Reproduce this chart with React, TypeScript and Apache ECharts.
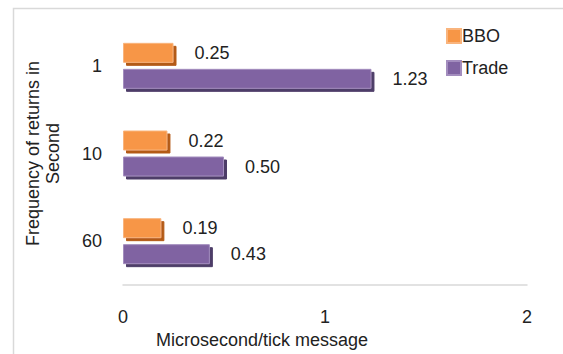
import React, { useEffect, useRef } from "react";
import * as echarts from "echarts";

const categories = ["1", "10", "60"];
const bboValues = [0.25, 0.22, 0.19];
const tradeValues = [1.23, 0.5, 0.43];
const xTicks = [0, 1, 2];

export default function App() {
  const ref = useRef<HTMLDivElement>(null);
  useEffect(() => {
    document.body.style.margin = "0";
    const chart = echarts.init(ref.current!, null, { renderer: "svg" });
    const font = "Liberation Sans, Arial, sans-serif";
    const fs = 18;
    const labelStyle = {
      show: true,
      position: "right" as const,
      distance: 21,
      color: "#222",
      fontSize: fs,
      fontFamily: font,
      formatter: (p: any) => p.value.toFixed(2),
    };
    chart.setOption({
      animation: false,
      backgroundColor: "#fff",
      textStyle: { fontFamily: font },
      graphic: [
        {
          type: "rect",
          shape: { x: 13.5, y: 8.5, width: 600, height: 400 },
          style: { fill: "none", stroke: "#d9d9d9", lineWidth: 1.5 },
          silent: true,
        },
      ],
      legend: {
        orient: "vertical",
        left: 441,
        top: 22,
        itemWidth: 14,
        itemHeight: 14,
        itemGap: 14,
        icon: "rect",
        textStyle: { fontSize: fs, color: "#222", fontFamily: font, padding: [0, 0, 0, -4] },
        data: ["BBO", "Trade"],
      },
      grid: { left: 123, right: 36, top: 22, bottom: 66, containLabel: false },
      xAxis: {
        type: "value",
        min: xTicks[0],
        max: xTicks[xTicks.length - 1],
        interval: 1,
        splitLine: { show: false },
        axisLine: { show: true, lineStyle: { color: "#d9d9d9", width: 1.5 } },
        axisTick: { show: false },
        axisLabel: { color: "#222", fontSize: fs, margin: 23, fontFamily: font },
        name: "Microsecond/tick message",
        nameLocation: "middle",
        nameGap: 46,
        nameTextStyle: { color: "#222", fontSize: fs, fontFamily: font, padding: [0, 0, 0, -126] },
      },
      yAxis: {
        type: "category",
        data: categories,
        inverse: true,
        axisLine: { show: false },
        axisTick: { show: false },
        splitLine: { show: false },
        axisLabel: { color: "#222", fontSize: fs, margin: 21, fontFamily: font },
        name: "Frequency of returns in\nSecond",
        nameLocation: "middle",
        nameGap: 60,
        nameRotate: 90,
        nameTextStyle: { color: "#222", fontSize: fs, fontFamily: font, lineHeight: 20 },
      },
      series: [
        {
          name: "BBO",
          type: "bar",
          data: bboValues,
          barWidth: 20,
          barGap: "30%",
          itemStyle: {
            color: "#F79646",
            borderColor: "#F9B47D",
            borderWidth: 1,
            shadowColor: "#B35A14",
            shadowOffsetX: 3,
            shadowOffsetY: 3,
            shadowBlur: 0,
          },
          label: labelStyle,
        },
        {
          name: "Trade",
          type: "bar",
          data: tradeValues,
          barWidth: 20,
          barGap: "30%",
          itemStyle: {
            color: "#8064A2",
            borderColor: "#A38DBE",
            borderWidth: 1,
            shadowColor: "#4E3C68",
            shadowOffsetX: 3,
            shadowOffsetY: 3,
            shadowBlur: 0,
          },
          label: labelStyle,
        },
      ],
    });
    return () => chart.dispose();
  }, []);
  return <div ref={ref} style={{ width: 563, height: 354 }} />;
}
